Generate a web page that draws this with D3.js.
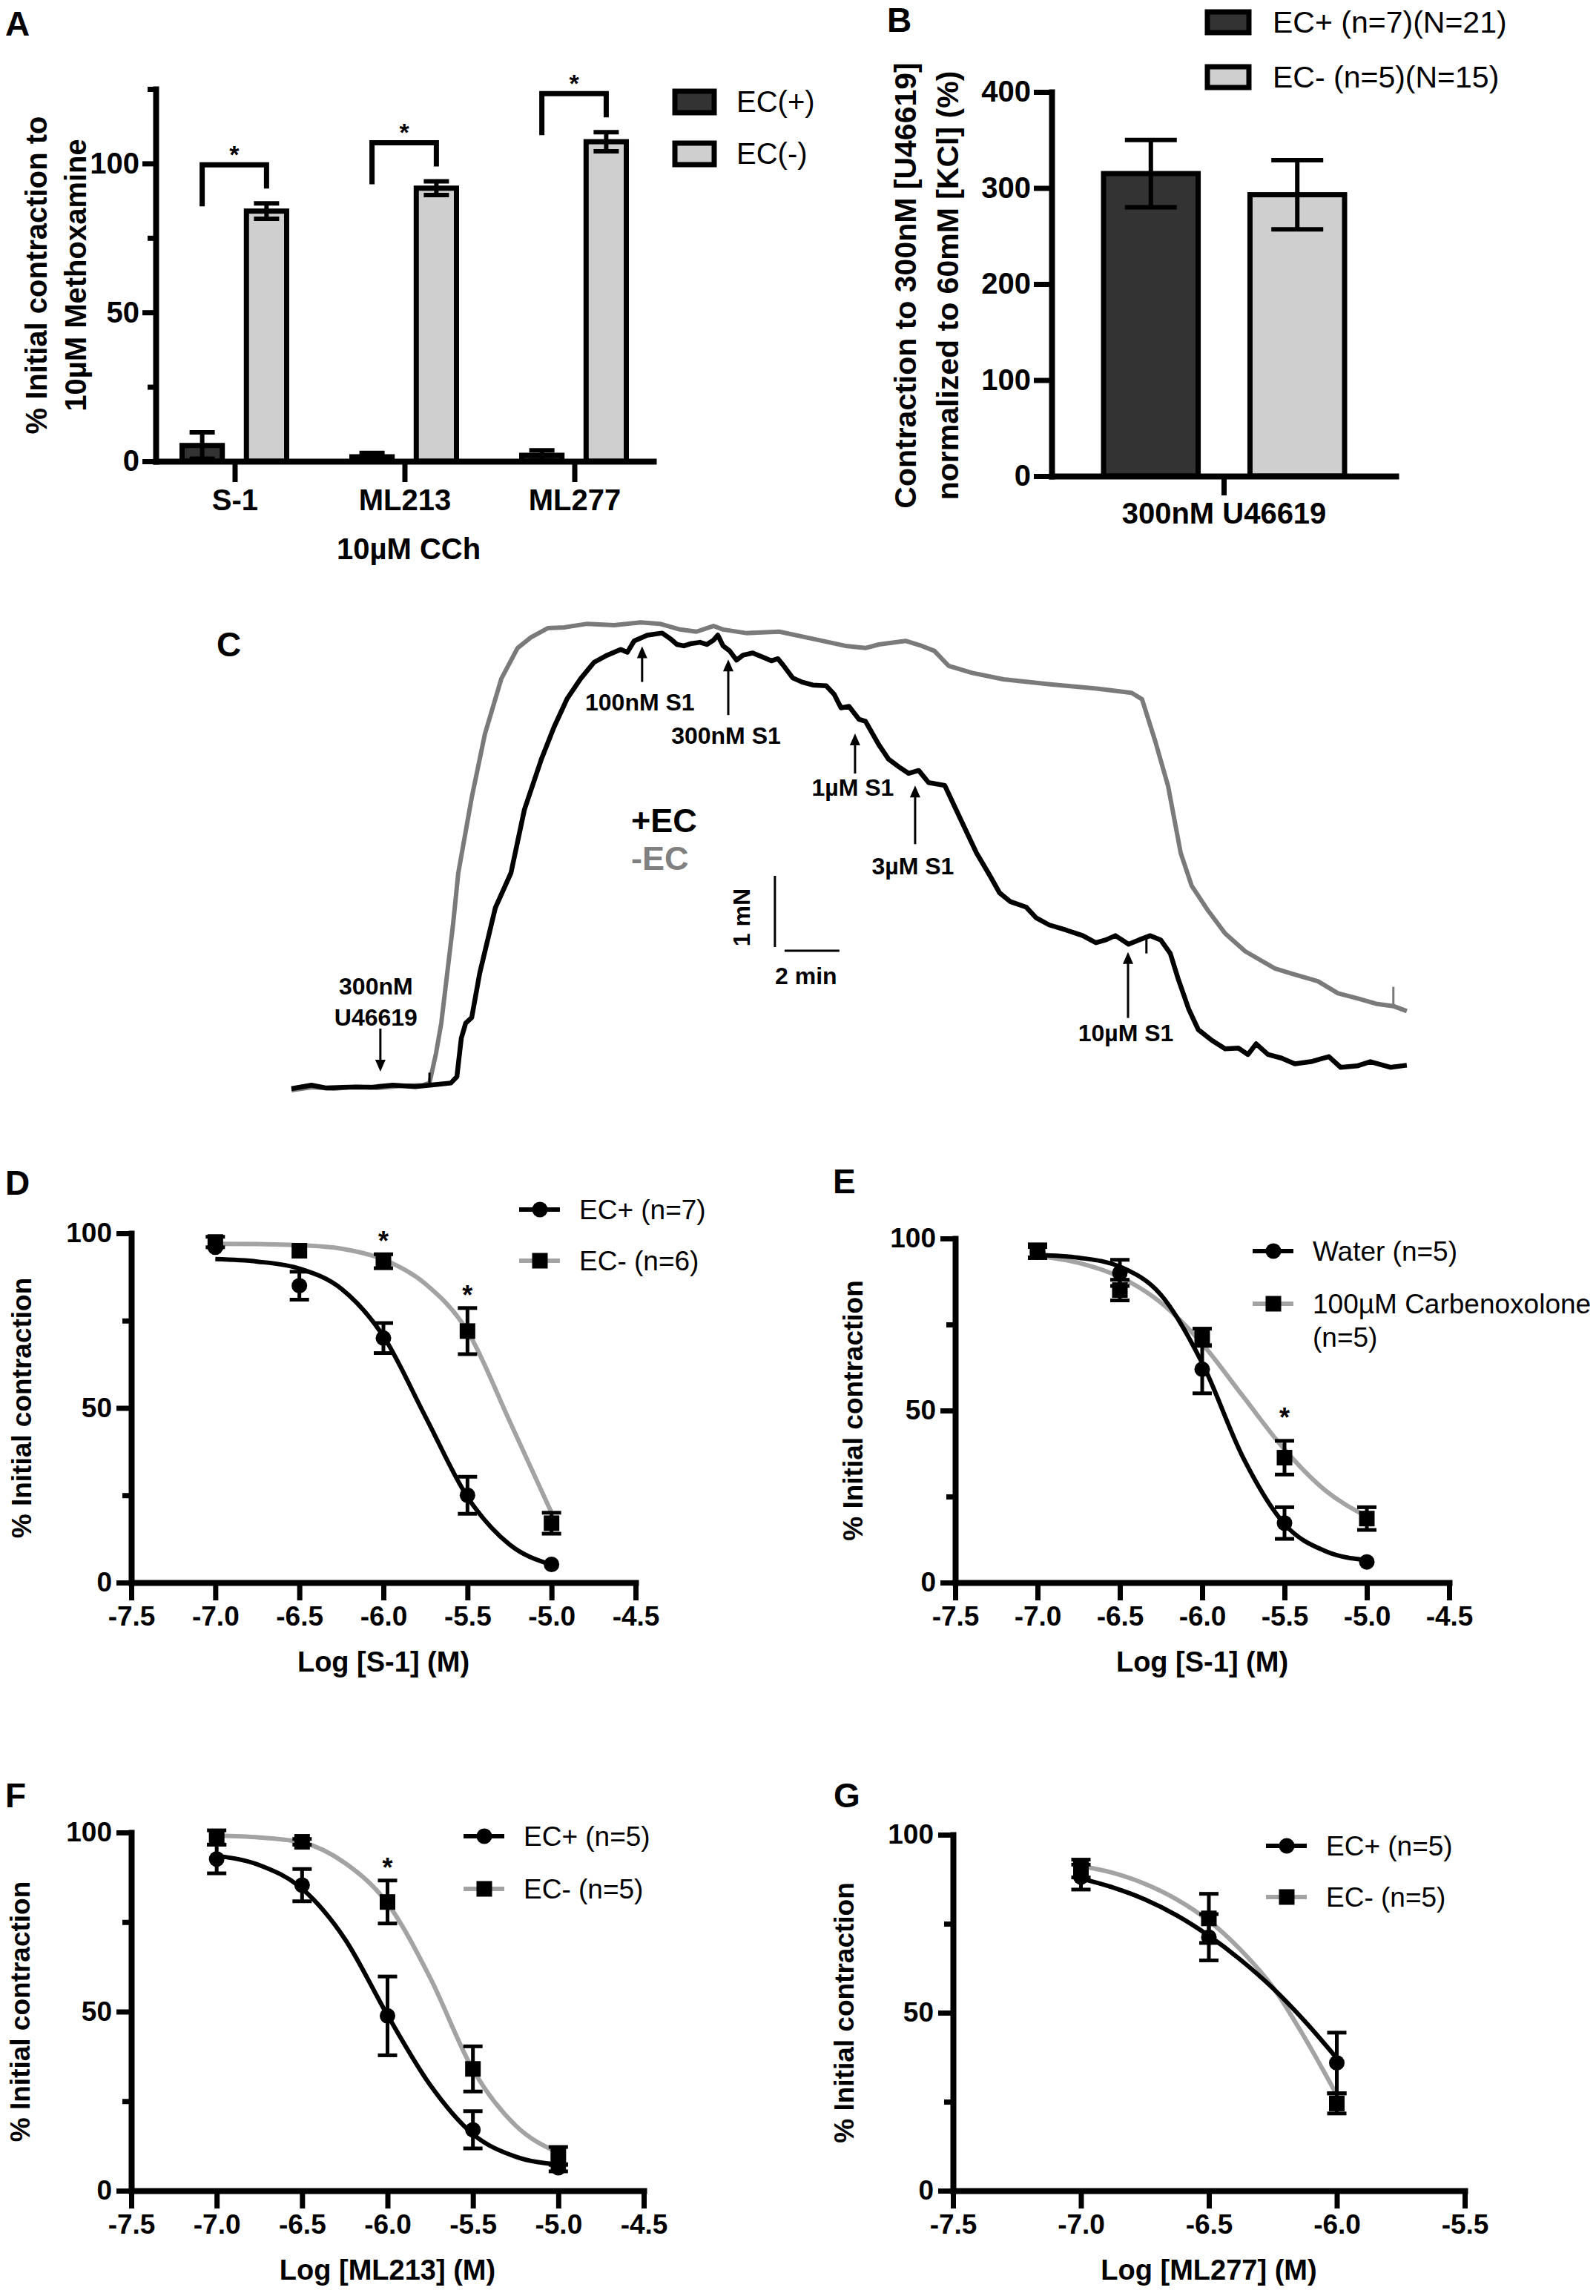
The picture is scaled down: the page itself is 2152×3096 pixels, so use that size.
<!DOCTYPE html>
<html>
<head>
<meta charset="utf-8">
<script src="https://cdn.jsdelivr.net/npm/d3@7"></script>
<style>
  body { margin: 0; background: #fff; }
  svg { display: block; }
</style>
</head>
<body>
<svg id="fig" width="2152" height="3096"></svg>
<script>
// ---------- data ----------
// A: bars, % of initial contraction to 10uM methoxamine
var aCats = ["S-1", "ML213", "ML277"];
var aGroups = ["EC(+)", "EC(-)"];
var aEcPlus = [5.3, 1.5, 2.0];
var aEcPlusErr = [4.4, 1.3, 1.7];
var aEcMinus = [84.0, 91.7, 107.3];
var aEcMinusErr = [2.6, 2.3, 3.2];

// B: bars
var bCats = ["300nM U46619"];
var bGroups = ["EC+ (n=7)(N=21)", "EC- (n=5)(N=15)"];
var bMean = [315, 293];
var bErr = [35, 36];

// C: recorded traces, [time (min), force (mN)]
var cBlack = [[0,0.01],[0.73,0.06],[1.27,0.02],[2.08,0.03],[2.89,0.03],[3.7,0.06],[4.51,0.04],[5.32,0.07],
  [5.81,0.09],[6.03,0.18],[6.19,0.72],[6.35,0.93],[6.57,1.01],[6.86,1.63],[7.43,2.55],[8.0,3.04],[8.49,3.93],
  [9.11,4.64],[9.57,5.09],[10.05,5.49],[10.54,5.77],[11.03,6.0],[11.51,6.1],[12.0,6.18],[12.24,6.14],
  [12.49,6.3],[12.97,6.38],[13.51,6.41],[13.81,6.33],[14.05,6.25],[14.3,6.23],[14.54,6.26],[14.89,6.28],
  [15.14,6.25],[15.38,6.31],[15.54,6.38],[15.73,6.23],[15.97,6.16],[16.22,6.03],[16.46,6.1],[16.81,6.13],
  [17.19,6.07],[17.49,6.02],[17.73,6.05],[17.92,5.96],[18.27,5.78],[18.62,5.72],[19.0,5.68],[19.49,5.67],
  [19.78,5.55],[20.03,5.36],[20.32,5.38],[20.68,5.2],[20.92,5.17],[21.41,4.84],[21.76,4.64],[22.14,4.53],
  [22.49,4.44],[22.86,4.48],[23.22,4.31],[23.81,4.27],[24.38,3.8],[24.97,3.32],[25.46,3.0],[25.81,2.76],
  [26.19,2.64],[26.78,2.56],[27.14,2.41],[27.62,2.31],[28.22,2.24],[28.84,2.16],[29.32,2.06],[29.68,2.1],
  [30.03,2.16],[30.51,2.04],[30.89,2.1],[31.3,2.16],[31.68,2.1],[32.03,1.91],[32.32,1.55],[32.7,1.13],
  [33.05,0.84],[33.54,0.69],[34.03,0.57],[34.51,0.58],[34.86,0.49],[35.16,0.64],[35.59,0.49],[36.08,0.44],
  [36.57,0.36],[37.16,0.39],[37.81,0.46],[38.24,0.31],[38.84,0.33],[39.32,0.39],[40.05,0.31],[40.65,0.34]];
var cGray = [[0,-0.01],[0.73,0.03],[1.54,0.01],[2.35,0.04],[3.16,0.02],[3.97,0.05],[4.78,0.06],[5.03,0.09],
  [5.27,0.51],[5.46,0.93],[5.89,2.32],[6.08,3.04],[6.57,4.1],[7.05,4.99],[7.65,5.77],[8.24,6.2],[8.73,6.35],
  [9.35,6.48],[9.95,6.49],[10.78,6.54],[11.76,6.52],[12.73,6.56],[13.43,6.54],[14.16,6.46],[14.76,6.43],
  [15.38,6.51],[15.73,6.46],[16.57,6.41],[17.78,6.43],[19.0,6.33],[20.19,6.23],[20.92,6.2],[21.41,6.25],
  [22.38,6.3],[22.97,6.23],[23.43,6.16],[23.95,5.95],[24.81,5.85],[25.95,5.76],[27.65,5.69],[29.35,5.63],
  [30.62,5.57],[31.0,5.48],[31.49,4.88],[31.95,4.26],[32.41,3.32],[32.81,2.86],[33.41,2.51],[34.03,2.19],
  [34.76,1.94],[35.84,1.7],[36.43,1.63],[37.41,1.52],[38.14,1.35],[38.84,1.28],[39.57,1.2],[40.16,1.17],
  [40.65,1.1]];
var cDoseLabels = ["100nM S1", "300nM S1", "1\u00b5M S1", "3\u00b5M S1", "10\u00b5M S1"];
var cDoseTimes = [12.78, 15.92, 20.54, 22.73, 30.49];
var cU46619Time = 3.24;
var cBlackMarks = [31.16];
var cGrayMarks = [5.03, 40.16];

// D-G: concentration-response, mean +/- SEM and fitted curve
var doseX = [-7.0, -6.5, -6.0, -5.5, -5.0];
var fitX = [-7.0, -6.75, -6.5, -6.25, -6.0, -5.75, -5.5, -5.25, -5.0];

var dEcPlus = [96.0, 85.0, 70.0, 25.0, 5.2];
var dEcPlusErr = [0, 4.0, 4.3, 5.3, 0];
var dEcPlusFit = [92.6, 91.9, 89.9, 84.1, 70.5, 47.5, 24.5, 10.9, 5.1];
var dEcMinus = [97.5, 95.0, 92.0, 72.0, 17.0];
var dEcMinusErr = [1.5, 0, 2.0, 6.6, 3.0];
var dEcMinusFit = [97.0, 96.9, 96.6, 95.6, 92.5, 85.5, 72.0, 46.3, 20.0];
var dStars = [-6.0, -5.5];

var eWater = [96.0, 90.0, 62.0, 17.3, 6.0];
var eWaterErr = [1.5, 3.8, 7.0, 4.6, 0];
var eWaterFit = [95.2, 94.4, 91.8, 83.6, 63.8, 36.2, 17.0, 9.1, 6.5];
var eCbx = [96.3, 85.0, 71.3, 36.3, 18.6];
var eCbxErr = [2.0, 3.0, 2.5, 4.9, 3.3];
var eCbxFit = [95.0, 92.9, 88.8, 81.3, 69.4, 54.0, 38.7, 26.7, 19.2];
var eStars = [-5.5];

var fEcPlus = [92.6, 85.3, 48.8, 17.0, 6.4];
var fEcPlusErr = [4.0, 4.5, 11.0, 5.2, 1.0];
var fEcPlusFit = [93.5, 90.9, 84.3, 70.3, 49.0, 29.5, 15.8, 9.5, 7.3];
var fEcMinus = [98.6, 97.4, 80.6, 34.0, 9.7];
var fEcMinusErr = [2.0, 0.8, 6.0, 6.3, 2.5];
var fEcMinusFit = [99.1, 98.6, 97.2, 91.5, 80.2, 59.4, 33.8, 18.2, 10.6];
var fStars = [-6.0];

var gDoseX = [-7.0, -6.5, -6.0];
var gFitX = [-7.0, -6.875, -6.75, -6.625, -6.5, -6.375, -6.25, -6.125, -6.0];
var gEcPlus = [88.1, 71.2, 35.9];
var gEcPlusErr = [3.5, 6.5, 8.5];
var gEcPlusFit = [87.7, 85.2, 81.8, 77.3, 71.6, 64.8, 56.9, 47.6, 37.2];
var gEcMinus = [90.5, 76.5, 24.5];
var gEcMinusErr = [2.5, 6.9, 2.8];
var gEcMinusFit = [91.2, 89.3, 86.2, 81.8, 75.8, 67.6, 57.2, 42.9, 26.9];

var pctTicks = [0, 25, 50, 75, 100];
var pctLabels = [0, 50, 100];

// ---------- drawing ----------
var FONT = '"Liberation Sans", Arial, Helvetica, sans-serif';
var DARK = "#333333", LIGHT = "#cfcfcf", GRAYLINE = "#a3a3a3", TRACEGRAY = "#7a7a7a";
var svg = d3.select("#fig");

function txt(g, x, y, s, size, bold) {
  return g.append("text").attr("x", x).attr("y", y).text(s)
    .attr("font-family", FONT).attr("font-size", size)
    .attr("font-weight", bold ? "bold" : "normal").attr("fill", "#000");
}

function vtitle(g, x, y, s, size) {
  return g.append("text").attr("transform", "translate(" + x + "," + y + ") rotate(-90)")
    .attr("text-anchor", "middle").attr("dominant-baseline", "central")
    .attr("font-family", FONT).attr("font-size", size).attr("font-weight", "bold").text(s);
}

function styleAxis(a, size) {
  a.select(".domain").attr("stroke", "#000").attr("stroke-width", 8).attr("stroke-linecap", "square");
  a.selectAll(".tick line").attr("stroke", "#000").attr("stroke-width", 7);
  a.selectAll(".tick text").attr("font-family", FONT).attr("font-size", size)
    .attr("font-weight", "bold").attr("fill", "#000");
}

function leftAxis(g, y, x0, ticks, labeled, size, len, pad) {
  var ax = d3.axisLeft(y).tickValues(ticks).tickSizeOuter(0).tickSizeInner(len).tickPadding(pad)
    .tickFormat(function (d) { return labeled.indexOf(d) >= 0 ? d : ""; });
  var a = g.append("g").attr("transform", "translate(" + x0 + ",0)").call(ax);
  styleAxis(a, size);
  a.selectAll(".tick").filter(function (d) { return labeled.indexOf(d) < 0; })
    .select("line").attr("x2", -Math.round(len * 0.6));
  return a;
}

function bottomAxis(g, x, y0, ticks, fmt, size, len, pad) {
  var ax = d3.axisBottom(x).tickSizeOuter(0).tickSizeInner(len).tickPadding(pad);
  if (ticks) ax.tickValues(ticks);
  if (fmt) ax.tickFormat(fmt);
  var a = g.append("g").attr("transform", "translate(0," + y0 + ")").call(ax);
  styleAxis(a, size);
  return a;
}

function errBar(g, x, y, m, e, half, w) {
  if (!e) return;
  g.append("line").attr("x1", x).attr("x2", x).attr("y1", y(m - e)).attr("y2", y(m + e))
    .attr("stroke", "#000").attr("stroke-width", w);
  [m - e, m + e].forEach(function (v) {
    g.append("line").attr("x1", x - half).attr("x2", x + half).attr("y1", y(v)).attr("y2", y(v))
      .attr("stroke", "#000").attr("stroke-width", w);
  });
}

// ---------- Panel A ----------
(function () {
  var g = svg.append("g");
  var x = d3.scalePoint().domain(aCats).range([210, 881]).padding(0.465);
  var xs = d3.scaleBand().domain(aGroups).range([-71, 70]).paddingInner(0.375);
  var y = d3.scaleLinear().domain([0, 125]).range([622, 120]);
  var vals = [aEcPlus, aEcMinus], errs = [aEcPlusErr, aEcMinusErr], fills = [DARK, LIGHT];

  aGroups.forEach(function (grp, gi) {
    g.selectAll(null).data(aCats).enter().append("rect")
      .attr("x", function (c) { return x(c) + xs(grp); })
      .attr("width", xs.bandwidth())
      .attr("y", function (c, i) { return y(vals[gi][i]); })
      .attr("height", function (c, i) { return y(0) - y(vals[gi][i]); })
      .attr("fill", fills[gi]).attr("stroke", "#000").attr("stroke-width", 7);
    aCats.forEach(function (c, i) {
      errBar(g, x(c) + xs(grp) + xs.bandwidth() / 2, y, vals[gi][i], errs[gi][i], 17, 6);
    });
  });

  // significance brackets
  aCats.forEach(function (c, i) {
    var xl = x(c) + xs("EC(+)") + xs.bandwidth() / 2;
    var xr = x(c) + xs("EC(-)") + xs.bandwidth() / 2;
    var yb = y(aEcMinus[i] + aEcMinusErr[i]) - 52;
    g.append("path").attr("d", "M" + xl + "," + (yb + 56) + "V" + yb + "H" + xr + "V" + (yb + 32))
      .attr("fill", "none").attr("stroke", "#000").attr("stroke-width", 7);
    txt(g, (xl + xr) / 2, yb - 2, "*", 34, true).attr("text-anchor", "middle");
  });

  leftAxis(g, y, 210, [0, 25, 50, 75, 100, 125], [0, 50, 100], 40, 18, 4);
  bottomAxis(g, x, 622, null, null, 40, 28, 10);

  vtitle(g, 49, 371, "% Initial contraction to", 40);
  vtitle(g, 102, 371, "10\u00b5M Methoxamine", 40);
  txt(g, 551, 754, "10\u00b5M CCh", 40, true).attr("text-anchor", "middle");

  aGroups.forEach(function (grp, gi) {
    var ly = 120 + gi * 70;
    g.append("rect").attr("x", 910).attr("y", ly + 3).attr("width", 53).attr("height", 29)
      .attr("fill", fills[gi]).attr("stroke", "#000").attr("stroke-width", 7);
    txt(g, 993, ly + 31, grp, 40, false);
  });
  txt(g, 7, 48, "A", 46, true);
})();

// ---------- Panel B ----------
(function () {
  var g = svg.append("g");
  var x = d3.scalePoint().domain(bCats).range([1418, 1882]).padding(0.5);
  var xs = d3.scaleBand().domain(bGroups).range([-162, 163]).paddingInner(0.354);
  var y = d3.scaleLinear().domain([0, 400]).range([642, 124]);
  var fills = [DARK, LIGHT];

  g.selectAll(null).data(bGroups).enter().append("rect")
    .attr("x", function (d) { return x(bCats[0]) + xs(d); })
    .attr("width", xs.bandwidth())
    .attr("y", function (d, i) { return y(bMean[i]); })
    .attr("height", function (d, i) { return y(0) - y(bMean[i]); })
    .attr("fill", function (d, i) { return fills[i]; })
    .attr("stroke", "#000").attr("stroke-width", 7);
  bGroups.forEach(function (d, i) {
    errBar(g, x(bCats[0]) + xs(d) + xs.bandwidth() / 2, y, bMean[i], bErr[i], 35, 6);
  });

  leftAxis(g, y, 1418, [0, 100, 200, 300, 400], [0, 100, 200, 300, 400], 40, 24, 4);
  bottomAxis(g, x, 642, null, null, 40, 26, 10);

  vtitle(g, 1221, 385, "Contraction to 300nM [U46619]", 41);
  vtitle(g, 1278, 385, "normalized to 60mM [KCl] (%)", 41);

  bGroups.forEach(function (grp, gi) {
    var ly = 13 + gi * 74;
    g.append("rect").attr("x", 1628).attr("y", ly + 3).attr("width", 56).attr("height", 28)
      .attr("fill", fills[gi]).attr("stroke", "#000").attr("stroke-width", 7);
    txt(g, 1716, ly + 31, grp, 41, false);
  });
  txt(g, 1196, 43, "B", 46, true);
})();

// ---------- Panel C ----------
(function () {
  var g = svg.append("g");
  var x = d3.scaleLinear().domain([0, 40.68]).range([393, 1898]);
  var y = d3.scaleLinear().domain([0, 6.5]).range([1469, 845]);
  var line = d3.line().x(function (d) { return x(d[0]); }).y(function (d) { return y(d[1]); });

  g.append("path").datum(cGray).attr("d", line).attr("fill", "none")
    .attr("stroke", TRACEGRAY).attr("stroke-width", 6).attr("stroke-linejoin", "round");
  g.append("path").datum(cBlack).attr("d", line).attr("fill", "none")
    .attr("stroke", "#000").attr("stroke-width", 6.5).attr("stroke-linejoin", "round");

  function valueAt(tr, t) {
    var i = d3.bisector(function (d) { return d[0]; }).left(tr, t);
    if (i <= 0) return tr[0][1];
    var a = tr[i - 1], b = tr[i];
    return a[1] + (b[1] - a[1]) * (t - a[0]) / (b[0] - a[0]);
  }

  // event marks on the traces
  cGrayMarks.forEach(function (t, i) {
    var v = y(valueAt(cGray, t));
    g.append("line").attr("x1", x(t)).attr("x2", x(t)).attr("y1", v - (i ? 26 : 14)).attr("y2", v)
      .attr("stroke", i ? TRACEGRAY : "#000").attr("stroke-width", 3);
  });
  cBlackMarks.forEach(function (t) {
    var v = y(valueAt(cBlack, t));
    g.append("line").attr("x1", x(t)).attr("x2", x(t)).attr("y1", v).attr("y2", v + 22)
      .attr("stroke", "#000").attr("stroke-width", 3);
  });

  function arrow(x0, yTail, yTip) {
    var dir = yTip < yTail ? 1 : -1;
    g.append("line").attr("x1", x0).attr("x2", x0).attr("y1", yTail).attr("y2", yTip + dir * 12)
      .attr("stroke", "#000").attr("stroke-width", 3);
    g.append("path").attr("d", "M" + x0 + "," + yTip + "L" + (x0 - 7) + "," + (yTip + dir * 16) +
      "L" + (x0 + 7) + "," + (yTip + dir * 16) + "Z").attr("fill", "#000");
  }

  var tipGap = [12, 13, 26, 19, 11];
  var arrowLen = [48, 75, 54, 79, 89];
  var labelGap = [26, 27, 18, 29, 19];
  cDoseTimes.forEach(function (t, i) {
    var tip = y(valueAt(cBlack, t)) + tipGap[i];
    var tail = tip + arrowLen[i];
    arrow(x(t), tail, tip);
    txt(g, x(t) - 3, tail + labelGap[i] + 12, cDoseLabels[i], 32, true).attr("text-anchor", "middle");
  });

  // U46619 addition
  var ut = x(cU46619Time);
  arrow(ut, 1387, y(valueAt(cBlack, cU46619Time)) - 20);
  txt(g, ut - 6, 1341, "300nM", 32, true).attr("text-anchor", "middle");
  txt(g, ut - 6, 1383, "U46619", 32, true).attr("text-anchor", "middle");

  // scale bar: 1 mN, 2 min
  var sx = x(17.62), sy = y(2.0);
  g.append("line").attr("x1", sx).attr("x2", sx).attr("y1", sy).attr("y2", sy - (y(0) - y(1)))
    .attr("stroke", "#000").attr("stroke-width", 3);
  g.append("line").attr("x1", sx + 13).attr("x2", sx + 13 + (x(2) - x(0))).attr("y1", sy + 5).attr("y2", sy + 5)
    .attr("stroke", "#000").attr("stroke-width", 3);
  vtitle(g, sx - 45, sy - 40, "1 mN", 32);
  txt(g, sx + 42, sy + 50, "2 min", 32, true).attr("text-anchor", "middle");

  txt(g, 851, 1122, "+EC", 45, true);
  txt(g, 851, 1173, "-EC", 45, true).attr("fill", "#808080");
  txt(g, 292, 885, "C", 46, true);
})();

// ---------- Panels D-G ----------
function marker(g, shape, cx, cy) {
  if (shape === "circle") {
    g.append("circle").attr("cx", cx).attr("cy", cy).attr("r", 10.5).attr("fill", "#000");
  } else {
    g.append("rect").attr("x", cx - 10.5).attr("y", cy - 10.5).attr("width", 21).attr("height", 21)
      .attr("fill", "#000");
  }
}

function doseRespPanel(p) {
  var g = svg.append("g");
  var x = d3.scaleLinear().domain(p.xDomain).range([p.left, p.right]);
  var y = d3.scaleLinear().domain([0, 100]).range([p.bottom, p.top]);
  var curve = d3.line().x(function (d) { return x(d[0]); }).y(function (d) { return y(d[1]); })
    .curve(d3.curveMonotoneX);

  leftAxis(g, y, p.left, pctTicks, pctLabels, 37, 20, 6);
  bottomAxis(g, x, p.bottom, d3.range(p.xDomain[0], p.xDomain[1] + 0.01, 0.5),
    function (d) { return d.toFixed(1); }, 37, 24, 8);

  p.series.slice().reverse().forEach(function (s) {
    g.append("path").datum(d3.zip(s.fitX, s.fit)).attr("d", curve).attr("fill", "none")
      .attr("stroke", s.color).attr("stroke-width", 6);
  });
  p.series.forEach(function (s) {
    s.x.forEach(function (v, i) { errBar(g, x(v), y, s.mean[i], s.err[i], 13, 5); });
  });
  p.series.forEach(function (s) {
    s.x.forEach(function (v, i) { marker(g, s.shape, x(v), y(s.mean[i])); });
  });

  (p.stars || []).forEach(function (v) {
    var top = d3.max(p.series, function (s) {
      var i = s.x.indexOf(v);
      return i < 0 ? 0 : s.mean[i] + s.err[i];
    });
    txt(g, x(v), y(top) - p.starGap + 21, "*", 36, true).attr("text-anchor", "middle");
  });

  p.series.forEach(function (s, i) {
    var ly = p.legendY[i];
    g.append("line").attr("x1", p.legendX).attr("x2", p.legendX + 55).attr("y1", ly).attr("y2", ly)
      .attr("stroke", s.color).attr("stroke-width", 6);
    marker(g, s.shape, p.legendX + 28, ly);
    s.label.forEach(function (l, k) {
      txt(g, p.legendX + 81, ly + 13 + k * 45, l, 37, false);
    });
  });

  vtitle(g, p.yTitleX, (p.top + p.bottom) / 2, "% Initial contraction", 37);
  txt(g, (p.left + p.right) / 2, p.bottom + 120, p.xTitle, 38, true).attr("text-anchor", "middle");
  txt(g, p.letterX, p.letterY, p.letter, 46, true);
}

doseRespPanel({
  letter: "D", letterX: 7, letterY: 1611,
  xDomain: [-7.5, -4.5], left: 177, right: 857, top: 1663, bottom: 2134,
  yTitleX: 29, xTitle: "Log [S-1] (M)", stars: dStars, starGap: 26,
  legendX: 700, legendY: [1631, 1700],
  series: [
    { label: ["EC+ (n=7)"], color: "#000", shape: "circle", x: doseX, mean: dEcPlus, err: dEcPlusErr, fitX: fitX, fit: dEcPlusFit },
    { label: ["EC- (n=6)"], color: GRAYLINE, shape: "square", x: doseX, mean: dEcMinus, err: dEcMinusErr, fitX: fitX, fit: dEcMinusFit }
  ]
});

doseRespPanel({
  letter: "E", letterX: 1123, letterY: 1609,
  xDomain: [-7.5, -4.5], left: 1288, right: 1954, top: 1670, bottom: 2134,
  yTitleX: 1150, xTitle: "Log [S-1] (M)", stars: eStars, starGap: 40,
  legendX: 1689, legendY: [1687, 1758],
  series: [
    { label: ["Water (n=5)"], color: "#000", shape: "circle", x: doseX, mean: eWater, err: eWaterErr, fitX: fitX, fit: eWaterFit },
    { label: ["100\u00b5M Carbenoxolone", "(n=5)"], color: GRAYLINE, shape: "square", x: doseX, mean: eCbx, err: eCbxErr, fitX: fitX, fit: eCbxFit }
  ]
});

doseRespPanel({
  letter: "F", letterX: 7, letterY: 2437,
  xDomain: [-7.5, -4.5], left: 177, right: 868, top: 2471, bottom: 2954,
  yTitleX: 27, xTitle: "Log [ML213] (M)", stars: fStars, starGap: 26,
  legendX: 625, legendY: [2476, 2547],
  series: [
    { label: ["EC+ (n=5)"], color: "#000", shape: "circle", x: doseX, mean: fEcPlus, err: fEcPlusErr, fitX: fitX, fit: fEcPlusFit },
    { label: ["EC- (n=5)"], color: GRAYLINE, shape: "square", x: doseX, mean: fEcMinus, err: fEcMinusErr, fitX: fitX, fit: fEcMinusFit }
  ]
});

doseRespPanel({
  letter: "G", letterX: 1124, letterY: 2437,
  xDomain: [-7.5, -5.5], left: 1285, right: 1975, top: 2474, bottom: 2954,
  yTitleX: 1138, xTitle: "Log [ML277] (M)", stars: [], starGap: 26,
  legendX: 1707, legendY: [2489, 2558],
  series: [
    { label: ["EC+ (n=5)"], color: "#000", shape: "circle", x: gDoseX, mean: gEcPlus, err: gEcPlusErr, fitX: gFitX, fit: gEcPlusFit },
    { label: ["EC- (n=5)"], color: GRAYLINE, shape: "square", x: gDoseX, mean: gEcMinus, err: gEcMinusErr, fitX: gFitX, fit: gEcMinusFit }
  ]
});
</script>
</body>
</html>
